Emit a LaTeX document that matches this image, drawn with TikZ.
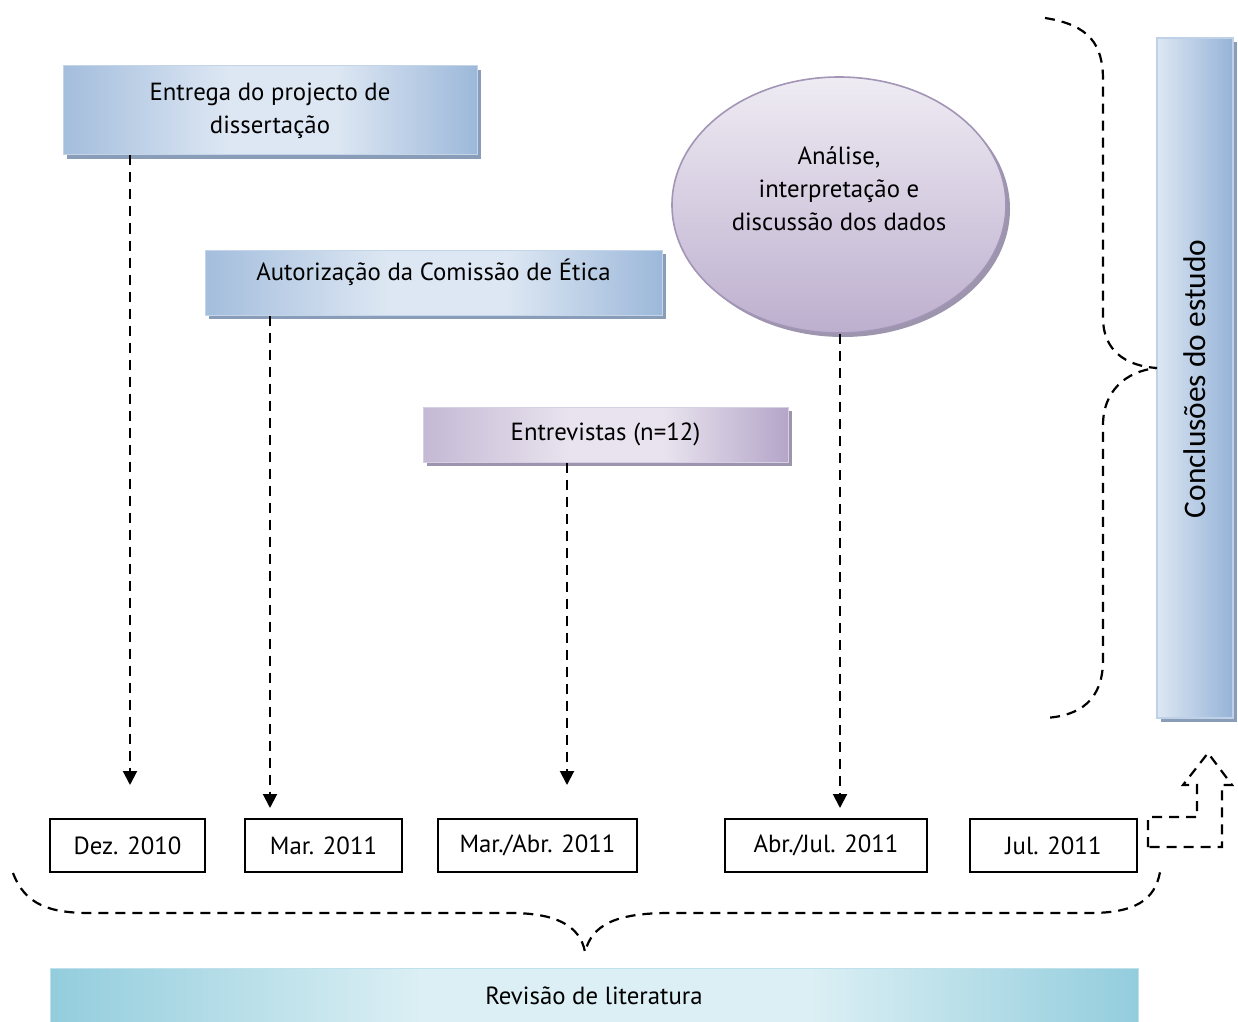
\documentclass[tikz,border=0pt]{standalone}
\usepackage{fontspec}
\setmainfont{PT Sans}
\newfontfamily\calfont{Carlito}
\usetikzlibrary{arrows.meta,shapes.geometric,shadows}

\definecolor{bluelt}{HTML}{DDE7F3}
\definecolor{blueed}{HTML}{95B3D7}
\definecolor{bluesh}{HTML}{8A9DB8}
\definecolor{purplt}{HTML}{E8E3EE}
\definecolor{purped}{HTML}{B5A6C9}
\definecolor{purpsh}{HTML}{9D94AD}
\definecolor{teallt}{HTML}{DBEFF4}
\definecolor{tealed}{HTML}{93CDDD}

\pgfdeclarehorizontalshading{blueshade}{100bp}{color(0bp)=(blueed!80!bluelt); color(25bp)=(blueed!80!bluelt); color(45bp)=(bluelt); color(58bp)=(bluelt); color(75bp)=(blueed!90!bluelt); color(100bp)=(blueed!90!bluelt)}
\pgfdeclarehorizontalshading{purpshade}{100bp}{color(0bp)=(purped!70!purplt); color(25bp)=(purped!70!purplt); color(45bp)=(purplt); color(58bp)=(purplt); color(75bp)=(purped); color(100bp)=(purped)}
\pgfdeclarehorizontalshading{tealshade}{100bp}{color(0bp)=(tealed); color(25bp)=(tealed); color(42bp)=(teallt); color(60bp)=(teallt); color(75bp)=(tealed); color(100bp)=(tealed)}

\begin{document}
\begin{tikzpicture}[x=0.5pt,y=-0.5pt,
  txt/.style={font=\fontsize{12.4pt}{16.5pt}\selectfont},
  boxbase/.style={rectangle, inner sep=0pt, txt, line width=0.5pt},
  bluebox/.style={boxbase, shading=blueshade, draw=blueed!55!white,
    drop shadow={shadow xshift=2pt, shadow yshift=-2pt, fill=bluesh, opacity=1}},
  purpbox/.style={boxbase, shading=purpshade, draw=purped!55!white,
    drop shadow={shadow xshift=2pt, shadow yshift=-2pt, fill=purpsh, opacity=1}},
  datebox/.style={rectangle, draw=black, line width=0.8pt, inner sep=0pt,
    minimum height=26.5pt, txt},
  dashln/.style={line width=1.1pt, dash pattern=on 5pt off 3.5pt},
  arr/.style={line width=1pt, dash pattern=on 5pt off 3.5pt,
    -{Triangle[width=7pt,length=7pt]}}
]
\clip (0,0) rectangle (1238,1022);
\fill[white] (0,0) rectangle (1238,1022);

% milestone boxes
\node[bluebox, align=center, minimum width=207pt, minimum height=44.5pt]
  (entrega) at (270,110.5) {Entrega do projecto de\\dissertação};
\node[bluebox, minimum width=228.5pt, minimum height=32.5pt,
  text height=9pt, text depth=10.6pt]
  (autor) at (433.5,282.5) {Autorização da Comissão de Ética};
\node[purpbox, minimum width=182.5pt, minimum height=27.5pt]
  (entrev) at (605.5,434.5) {Entrevistas (n=12)};

% data analysis ellipse
\node[ellipse, inner sep=0pt, minimum width=167pt, minimum height=128pt,
  top color=purplt!70!white, bottom color=purped!85!purplt,
  draw=purped!90!black, line width=0.8pt,
  drop shadow={shadow xshift=2pt, shadow yshift=-2pt, fill=purpsh, opacity=1}]
  (analise) at (839,205) {};
\node[txt, align=center] (analiseT) at (839,189)
  {Análise,\\interpretação e\\discussão dos dados};

% conclusions bar
\node[rectangle, inner sep=0pt, minimum width=38pt, minimum height=340pt,
  left color=bluelt, right color=blueed, draw=blueed!60!white, line width=0.6pt,
  drop shadow={shadow xshift=2pt, shadow yshift=-2pt, fill=bluesh, opacity=1}]
  (concl) at (1195,378) {};
\node[rotate=90, font=\calfont\fontsize{15.7pt}{18pt}\selectfont]
  (conclT) at (1195,379) {Conclusões do estudo};

% literature review bar
\node[boxbase, shading=tealshade, draw=tealed!60!white,
  minimum width=544pt, minimum height=28pt]
  (revis) at (594,996) {Revisão de literatura};

% timeline
\node[datebox, minimum width=77.5pt] (dez) at (127.5,845.5) {Dez. 2010};
\node[datebox, minimum width=78.5pt] (mar) at (323.5,845.5) {Mar. 2011};
\node[datebox, minimum width=99.5pt] (marabr) at (537.5,845.5) {Mar./Abr. 2011};
\node[datebox, minimum width=101pt] (abrjul) at (826,845.5) {Abr./Jul. 2011};
\node[datebox, minimum width=83.5pt] (jul) at (1053.5,845.5) {Jul. 2011};

% arrow ends above the dates
\coordinate (t1) at (130,785);
\coordinate (t2) at (270,808);
\coordinate (t3) at (567,785);
\coordinate (t4) at (840,808);
\draw[arr] (entrega.south -| t1) -- (t1);
\draw[arr] (autor.south -| t2) -- (t2);
\draw[arr] (entrev.south -| t3) -- (t3);
\draw[arr] (analise.south -| t4) -- (t4);

% brace towards the conclusions
\coordinate (btip) at (1157,368);
\draw[dashln] (1045,18) .. controls (1090,25) and (1103,45) .. (1103,80)
  -- (1103,318) .. controls (1103,350) and (1125,366) .. (btip)
  .. controls (1125,371) and (1103,392) .. (1103,425)
  -- (1103,660) .. controls (1103,700) and (1080,716) .. (1045,718);

% brace over the timeline
\coordinate (ltip) at (585,952);
\draw[dashln] (13,873) .. controls (25,905) and (50,913) .. (90,913)
  -- (510,913) .. controls (555,913) and (580,925) .. (ltip)
  .. controls (592,925) and (615,913) .. (670,913)
  -- (1090,913) .. controls (1135,913) and (1155,900) .. (1160,872);

% bent block arrow from the last date up to the conclusions
\draw[dashln] (1148,847) -- (1148,817) -- (1197,817) -- (1197,785)
  -- (1183,785) -- (1208,753) -- (1232,785) -- (1222,785)
  -- (1222,847) -- cycle;
\end{tikzpicture}
\end{document}
